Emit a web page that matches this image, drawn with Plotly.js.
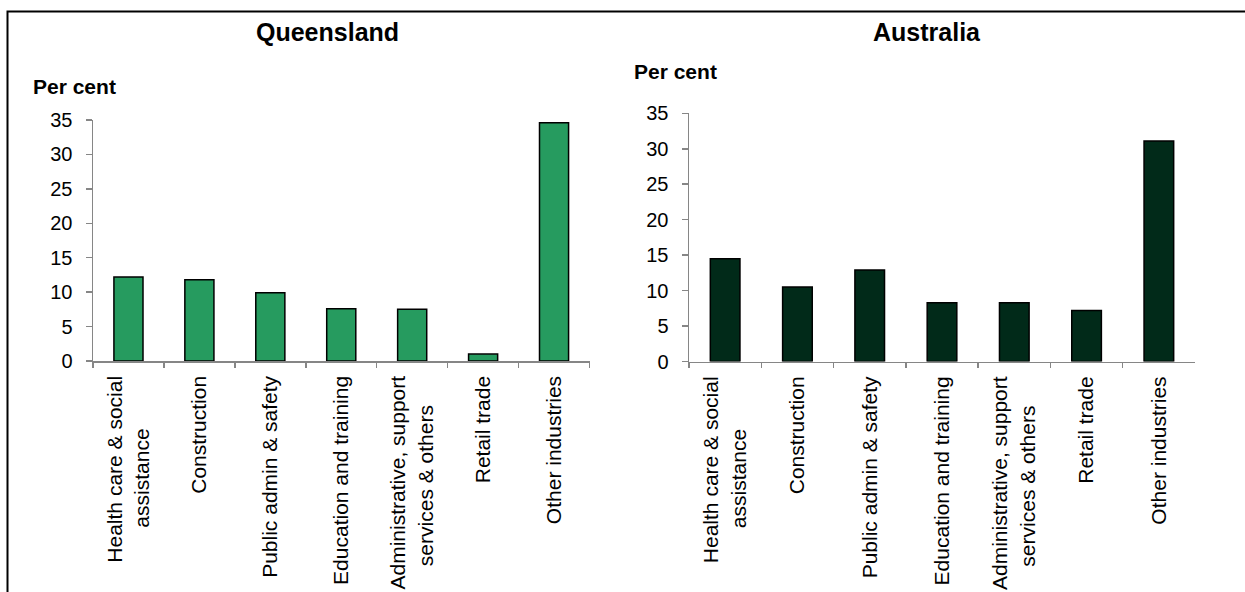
<!DOCTYPE html>
<html>
<head>
<meta charset="utf-8">
<script src="https://cdn.plot.ly/plotly-3.0.1.min.js"></script>
<style>
  html, body { margin: 0; padding: 0; background: #ffffff; }
  #chart { width: 1245px; height: 592px; }
</style>
</head>
<body>
<div id="chart"></div>
<script>
// ---- data ----
var categories = [
  "Health care & social<br>assistance\u00a0\u00a0\u00a0\u00a0\u00a0\u00a0\u00a0\u00a0\u00a0",
  "Construction",
  "Public admin & safety",
  "Education and training",
  "Administrative, support<br>services & others\u00a0\u00a0\u00a0\u00a0\u00a0",
  "Retail trade",
  "Other industries"
];
var queenslandValues = [12.2, 11.8, 9.9, 7.6, 7.5, 1.0, 34.6];
var australiaValues = [14.5, 10.5, 12.9, 8.3, 8.3, 7.2, 31.1];
var yTickValues = [0, 5, 10, 15, 20, 25, 30, 35];
var panelTitles = ["Queensland", "Australia"];
var yAxisLabel = "Per cent";

// ---- layout helpers ----
var W = 1245, H = 592;
function px(x) { return x / W; }
function py(y) { return (H - y) / H; }

var FONT = "Liberation Sans, Arial, sans-serif";
var AXIS_GREY = "#868686";

var traces = [
  {
    type: "bar", x: categories, y: queenslandValues, xaxis: "x", yaxis: "y",
    marker: { color: "#269b5f", line: { color: "#000000", width: 1.5 } },
    hoverinfo: "x+y"
  },
  {
    type: "bar", x: categories, y: australiaValues, xaxis: "x2", yaxis: "y2",
    marker: { color: "#012a19", line: { color: "#000000", width: 1.5 } },
    hoverinfo: "x+y"
  }
];

function xCat(domain, anchor) {
  return {
    domain: domain, anchor: anchor, type: "category",
    tickson: "boundaries", ticks: "outside", ticklen: 5, tickwidth: 1.5, tickcolor: AXIS_GREY,
    showline: true, linecolor: AXIS_GREY, linewidth: 1.5,
    showgrid: false, zeroline: false,
    tickangle: -90, ticklabelstandoff: 5,
    tickfont: { family: FONT, size: 21, color: "#000000" },
    fixedrange: true
  };
}
function xOver(overlay, anchor) {
  return {
    overlaying: overlay, anchor: anchor, range: [-0.5, 6.5],
    tickmode: "array", tickvals: [-0.5, 0.5, 1.5, 2.5, 3.5, 4.5, 5.5, 6.5],
    ticks: "inside", ticklen: 5, tickwidth: 1.5, tickcolor: AXIS_GREY,
    showticklabels: false, showline: false, showgrid: false, zeroline: false,
    fixedrange: true
  };
}
function yAx(domain, anchor) {
  return {
    domain: domain, anchor: anchor, range: [0, 35],
    tickmode: "array", tickvals: yTickValues,
    ticks: "outside", ticklen: 6, tickwidth: 1.5, tickcolor: AXIS_GREY,
    showline: true, linecolor: AXIS_GREY, linewidth: 1.5,
    showgrid: false, zeroline: false, ticklabelstandoff: 9,
    tickfont: { family: FONT, size: 20, color: "#000000" },
    fixedrange: true
  };
}

var layout = {
  width: W, height: H,
  margin: { l: 0, r: 0, t: 0, b: 0 },
  paper_bgcolor: "#ffffff", plot_bgcolor: "rgba(0,0,0,0)",
  showlegend: false,
  bargap: 0.59,
  xaxis: xCat([px(93), px(589.5)], "y"),
  yaxis: yAx([py(361), py(120)], "x"),
  xaxis2: xCat([px(689), px(1195)], "y2"),
  yaxis2: yAx([py(361.5), py(113.3)], "x2"),
  xaxis3: xOver("x", "y"),
  xaxis4: xOver("x2", "y2"),
  annotations: [
    { text: "<b>" + panelTitles[0] + "</b>", xref: "paper", yref: "paper",
      x: px(327), y: py(32), xanchor: "center", yanchor: "middle", showarrow: false,
      font: { family: FONT, size: 25, color: "#000000" } },
    { text: "<b>" + panelTitles[1] + "</b>", xref: "paper", yref: "paper",
      x: px(927), y: py(32), xanchor: "center", yanchor: "middle", showarrow: false,
      font: { family: FONT, size: 25, color: "#000000" } },
    { text: "<b>" + yAxisLabel + "</b>", xref: "paper", yref: "paper",
      x: px(31), y: py(86), xanchor: "left", yanchor: "middle", showarrow: false,
      font: { family: FONT, size: 21, color: "#000000" } },
    { text: "<b>" + yAxisLabel + "</b>", xref: "paper", yref: "paper",
      x: px(632), y: py(72), xanchor: "left", yanchor: "middle", showarrow: false,
      font: { family: FONT, size: 21, color: "#000000" } }
  ],
  shapes: [
    { type: "rect", xref: "paper", yref: "paper",
      x0: px(7.5), x1: 1.1, y0: -0.1, y1: py(11.5),
      line: { color: "#000000", width: 2 }, fillcolor: "rgba(0,0,0,0)", layer: "above" }
  ]
};

Plotly.newPlot("chart", traces, layout, { displayModeBar: false, staticPlot: true });
</script>
</body>
</html>
